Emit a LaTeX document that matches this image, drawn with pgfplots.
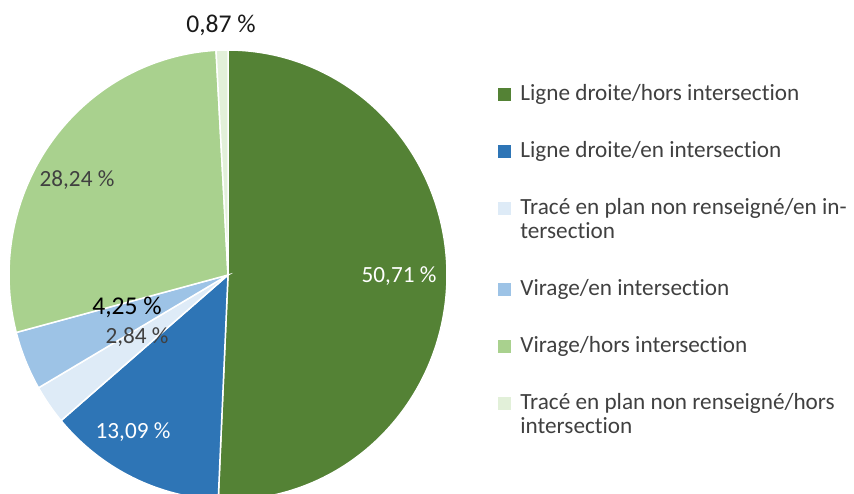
\documentclass[border=0pt]{standalone}
\usepackage{pgfplots}
\pgfplotsset{compat=1.18}
\usepackage{fontspec}
\setmainfont{Carlito}[Ligatures=NoCommon]
\definecolor{c1}{HTML}{548235}
\definecolor{c2}{HTML}{2E75B6}
\definecolor{c3}{HTML}{DEEBF7}
\definecolor{c4}{HTML}{9DC3E6}
\definecolor{c5}{HTML}{A9D18E}
\definecolor{c6}{HTML}{E2F0D9}
\definecolor{txt}{HTML}{404040}
\newcommand{\lf}{\fontsize{11.6pt}{12pt}\selectfont}
\newcommand{\lfbig}{\fontsize{12.8pt}{13pt}\selectfont}
\begin{document}
\begin{tikzpicture}
\begin{axis}[
  width=427pt, height=246.5pt, scale only axis,
  xmin=0, xmax=854, ymin=0, ymax=493,
  hide axis, clip=true,
  legend image code/.code={\fill[#1,draw=none] (0pt,-0.5pt) rectangle (6.5pt,6pt);},
  legend style={at={(0.5831,0.8312)}, anchor=north west, draw=none, fill=none,
    inner sep=0pt, row sep=16.5pt, column sep=4.5pt, font=\lf, text=txt,
    cells={anchor=base west},
    nodes={inner sep=0pt, text depth={}}},
]
% values (%): 50.71, 13.09, 2.84, 4.25, 28.24, 0.87 -- clockwise from 12 o'clock
\addplot[fill=c1, draw=white, line width=0.75pt, domain=90-3.6*50.71:90, samples=150, variable=\t]
  ({228+219*cos(t)},{218+225*sin(t)}) -- (axis cs:228,218) -- cycle;
\addlegendentry{\strut Ligne droite/hors intersection}
\addplot[fill=c2, draw=white, line width=0.75pt, domain=90-3.6*(50.71+13.09):90-3.6*50.71, samples=60, variable=\t]
  ({228+219*cos(t)},{218+225*sin(t)}) -- (axis cs:228,218) -- cycle;
\addlegendentry{\strut Ligne droite/en intersection}
\addplot[fill=c3, draw=white, line width=0.75pt, domain=90-3.6*(50.71+13.09+2.84):90-3.6*(50.71+13.09), samples=20, variable=\t]
  ({228+219*cos(t)},{218+225*sin(t)}) -- (axis cs:228,218) -- cycle;
\addlegendentry{\parbox[t]{180pt}{\strut Tracé en plan non renseigné/en in-\\tersection\strut}}
\addplot[fill=c4, draw=white, line width=0.75pt, domain=90-3.6*(50.71+13.09+2.84+4.25):90-3.6*(50.71+13.09+2.84), samples=20, variable=\t]
  ({228+219*cos(t)},{218+225*sin(t)}) -- (axis cs:228,218) -- cycle;
\addlegendentry{\strut Virage/en intersection}
\addplot[fill=c5, draw=white, line width=0.75pt, domain=90-3.6*(50.71+13.09+2.84+4.25+28.24):90-3.6*(50.71+13.09+2.84+4.25), samples=120, variable=\t]
  ({228+219*cos(t)},{218+225*sin(t)}) -- (axis cs:228,218) -- cycle;
\addlegendentry{\strut Virage/hors intersection}
\addplot[fill=c6, draw=white, line width=0.75pt, domain=90-3.6*(50.71+13.09+2.84+4.25+28.24+0.87):90-3.6*(50.71+13.09+2.84+4.25+28.24), samples=10, variable=\t]
  ({228+219*cos(t)},{218+225*sin(t)}) -- (axis cs:228,218) -- cycle;
\addlegendentry{\parbox[t]{180pt}{\strut Tracé en plan non renseigné/hors\\intersection\strut}}
% data labels
\node[font=\lf, text=white, inner sep=0pt] at (axis cs:399,217) {50,71 \%};
\node[font=\lf, text=white, inner sep=0pt] at (axis cs:133,61) {13,09 \%};
\node[font=\lf, text=txt, inner sep=0pt] at (axis cs:137,156) {2,84 \%};
\node[font=\lfbig, text=black, inner sep=0pt] at (axis cs:127,186) {4,25 \%};
\node[font=\lf, text=txt, inner sep=0pt] at (axis cs:77,313) {28,24 \%};
\node[font=\lfbig, text=black!90, inner sep=0pt] at (axis cs:221,468) {0,87 \%};
\end{axis}
\pgfresetboundingbox
\useasboundingbox (0,0) rectangle (427pt,246.5pt);
\end{tikzpicture}
\end{document}
